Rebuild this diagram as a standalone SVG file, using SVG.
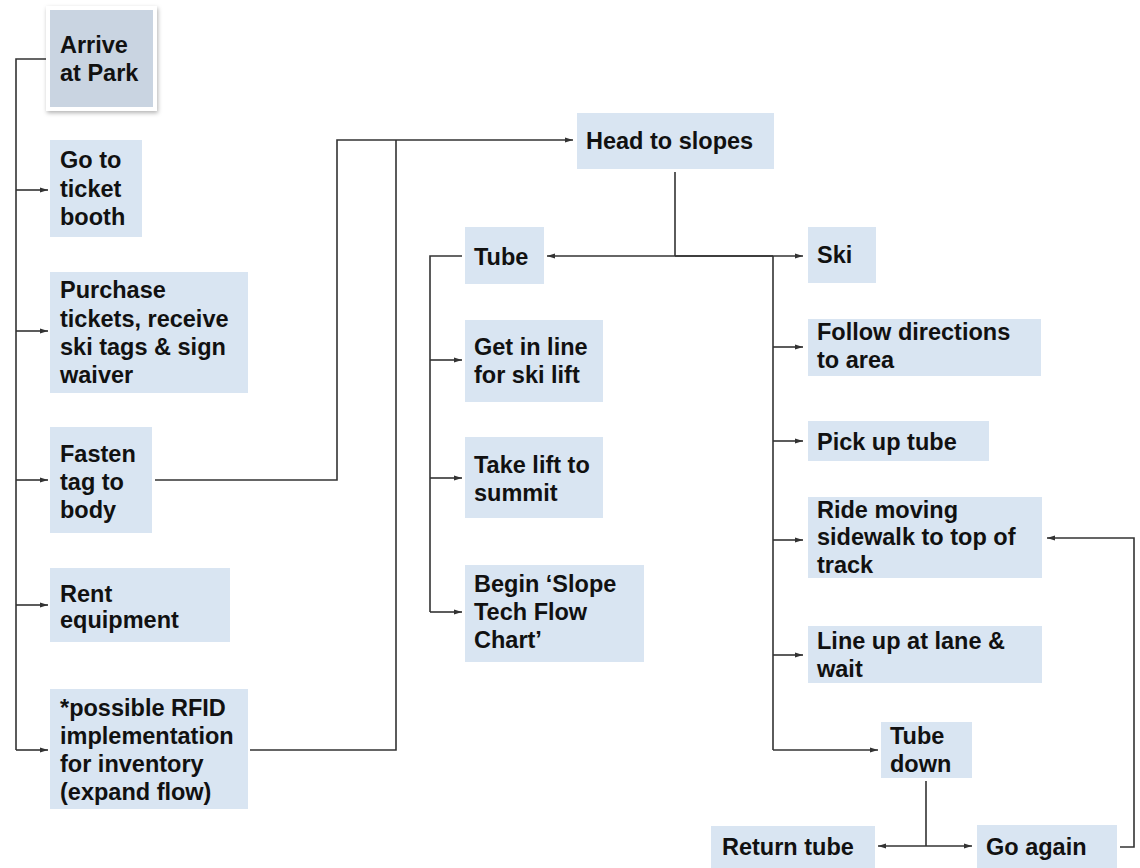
<svg xmlns="http://www.w3.org/2000/svg" width="1140" height="868" viewBox="0 0 1140 868">
<defs>
<marker id="ah" viewBox="0 0 8 6" refX="8" refY="3" markerWidth="8" markerHeight="6" markerUnits="userSpaceOnUse" orient="auto">
<path d="M0,0.5 L8,3 L0,5.5 Z" fill="#333"/>
</marker>
<filter id="sh" x="-20%" y="-20%" width="140%" height="140%">
<feDropShadow dx="1" dy="2" stdDeviation="2" flood-color="#000" flood-opacity="0.3"/>
</filter>
</defs>
<style>
.box{fill:#d9e5f2}
.t{font-family:"Liberation Sans",Arial,sans-serif;font-weight:bold;font-size:23.5px;fill:#111}
.c{fill:none;stroke:#333;stroke-width:1.6}
.a{marker-end:url(#ah)}
</style>
<rect width="1140" height="868" fill="#fff"/>
<g id="connectors">
<path class="c" d="M48,59 H16 V750"/>
<path class="c a" d="M16,190 H48"/>
<path class="c a" d="M16,331 H48"/>
<path class="c a" d="M16,480 H48"/>
<path class="c a" d="M16,605 H48"/>
<path class="c a" d="M16,750 H48"/>
<path class="c a" d="M155,480 H337 V140 H573"/>
<path class="c" d="M250,750 H396 V140"/>
<path class="c" d="M675,172 V256"/>
<path class="c a" d="M773,256 H547"/>
<path class="c a" d="M675,256 H803"/>
<path class="c" d="M462,256 H430 V612"/>
<path class="c a" d="M430,360 H462"/>
<path class="c a" d="M430,478 H462"/>
<path class="c a" d="M430,612 H462"/>
<path class="c" d="M773,256 V750"/>
<path class="c a" d="M773,347 H803"/>
<path class="c a" d="M773,441 H803"/>
<path class="c a" d="M773,540 H803"/>
<path class="c a" d="M773,655 H803"/>
<path class="c a" d="M773,750 H878"/>
<path class="c" d="M926,781 V846"/>
<path class="c a" d="M926,846 H878"/>
<path class="c a" d="M926,846 H972"/>
<path class="c a" d="M1120,847 H1134 V538 H1047"/>
</g>
<g id="arrive">
<rect x="46" y="6" width="111" height="105" fill="#fff" filter="url(#sh)"/>
<rect x="50" y="10" width="103" height="97" fill="#c9d4e1"/>
<text class="t" x="60"><tspan x="60" y="53">Arrive</tspan><tspan x="60" y="81">at Park</tspan></text>
</g>
<g id="ticket-booth">
<rect class="box" x="50" y="140" width="92" height="97"/>
<text class="t"><tspan x="60" y="168">Go to</tspan><tspan x="60" y="197">ticket</tspan><tspan x="60" y="225">booth</tspan></text>
</g>
<g id="purchase">
<rect class="box" x="50" y="272" width="198" height="121"/>
<text class="t"><tspan x="60" y="298">Purchase</tspan><tspan x="60" y="327">tickets, receive</tspan><tspan x="60" y="355">ski tags &amp; sign</tspan><tspan x="60" y="383">waiver</tspan></text>
</g>
<g id="fasten">
<rect class="box" x="50" y="427" width="102" height="106"/>
<text class="t"><tspan x="60" y="462">Fasten</tspan><tspan x="60" y="490">tag to</tspan><tspan x="60" y="518">body</tspan></text>
</g>
<g id="rent">
<rect class="box" x="50" y="568" width="180" height="74"/>
<text class="t"><tspan x="60" y="602">Rent</tspan><tspan x="60" y="628">equipment</tspan></text>
</g>
<g id="rfid">
<rect class="box" x="50" y="689" width="198" height="120"/>
<text class="t"><tspan x="60" y="716">*possible RFID</tspan><tspan x="60" y="744">implementation</tspan><tspan x="60" y="772">for inventory</tspan><tspan x="60" y="800">(expand flow)</tspan></text>
</g>
<g id="head-to-slopes">
<rect class="box" x="577" y="113" width="197" height="56"/>
<text class="t" x="586" y="149">Head to slopes</text>
</g>
<g id="tube">
<rect class="box" x="465" y="227" width="79" height="57"/>
<text class="t" x="474" y="265">Tube</text>
</g>
<g id="get-in-line">
<rect class="box" x="465" y="320" width="138" height="82"/>
<text class="t"><tspan x="474" y="355">Get in line</tspan><tspan x="474" y="383">for ski lift</tspan></text>
</g>
<g id="take-lift">
<rect class="box" x="465" y="437" width="138" height="81"/>
<text class="t"><tspan x="474" y="473">Take lift to</tspan><tspan x="474" y="501">summit</tspan></text>
</g>
<g id="begin-slope">
<rect class="box" x="465" y="565" width="179" height="97"/>
<text class="t"><tspan x="474" y="592">Begin ‘Slope</tspan><tspan x="474" y="620">Tech Flow</tspan><tspan x="474" y="648">Chart’</tspan></text>
</g>
<g id="ski">
<rect class="box" x="808" y="227" width="68" height="56"/>
<text class="t" x="817" y="263">Ski</text>
</g>
<g id="follow-directions">
<rect class="box" x="808" y="319" width="233" height="57"/>
<text class="t"><tspan x="817" y="340">Follow directions</tspan><tspan x="817" y="368">to area</tspan></text>
</g>
<g id="pick-up-tube">
<rect class="box" x="808" y="421" width="181" height="40"/>
<text class="t" x="817" y="450">Pick up tube</text>
</g>
<g id="ride-sidewalk">
<rect class="box" x="808" y="497" width="234" height="81"/>
<text class="t"><tspan x="817" y="518">Ride moving</tspan><tspan x="817" y="545">sidewalk to top of</tspan><tspan x="817" y="573">track</tspan></text>
</g>
<g id="line-up">
<rect class="box" x="808" y="626" width="234" height="57"/>
<text class="t"><tspan x="817" y="649">Line up at lane &amp;</tspan><tspan x="817" y="677">wait</tspan></text>
</g>
<g id="tube-down">
<rect class="box" x="881" y="722" width="91" height="56"/>
<text class="t"><tspan x="890" y="744">Tube</tspan><tspan x="890" y="772">down</tspan></text>
</g>
<g id="return-tube">
<rect class="box" x="711" y="826" width="164" height="42"/>
<text class="t" x="722" y="855">Return tube</text>
</g>
<g id="go-again">
<rect class="box" x="977" y="825" width="140" height="43"/>
<text class="t" x="986" y="855">Go again</text>
</g>
</svg>
